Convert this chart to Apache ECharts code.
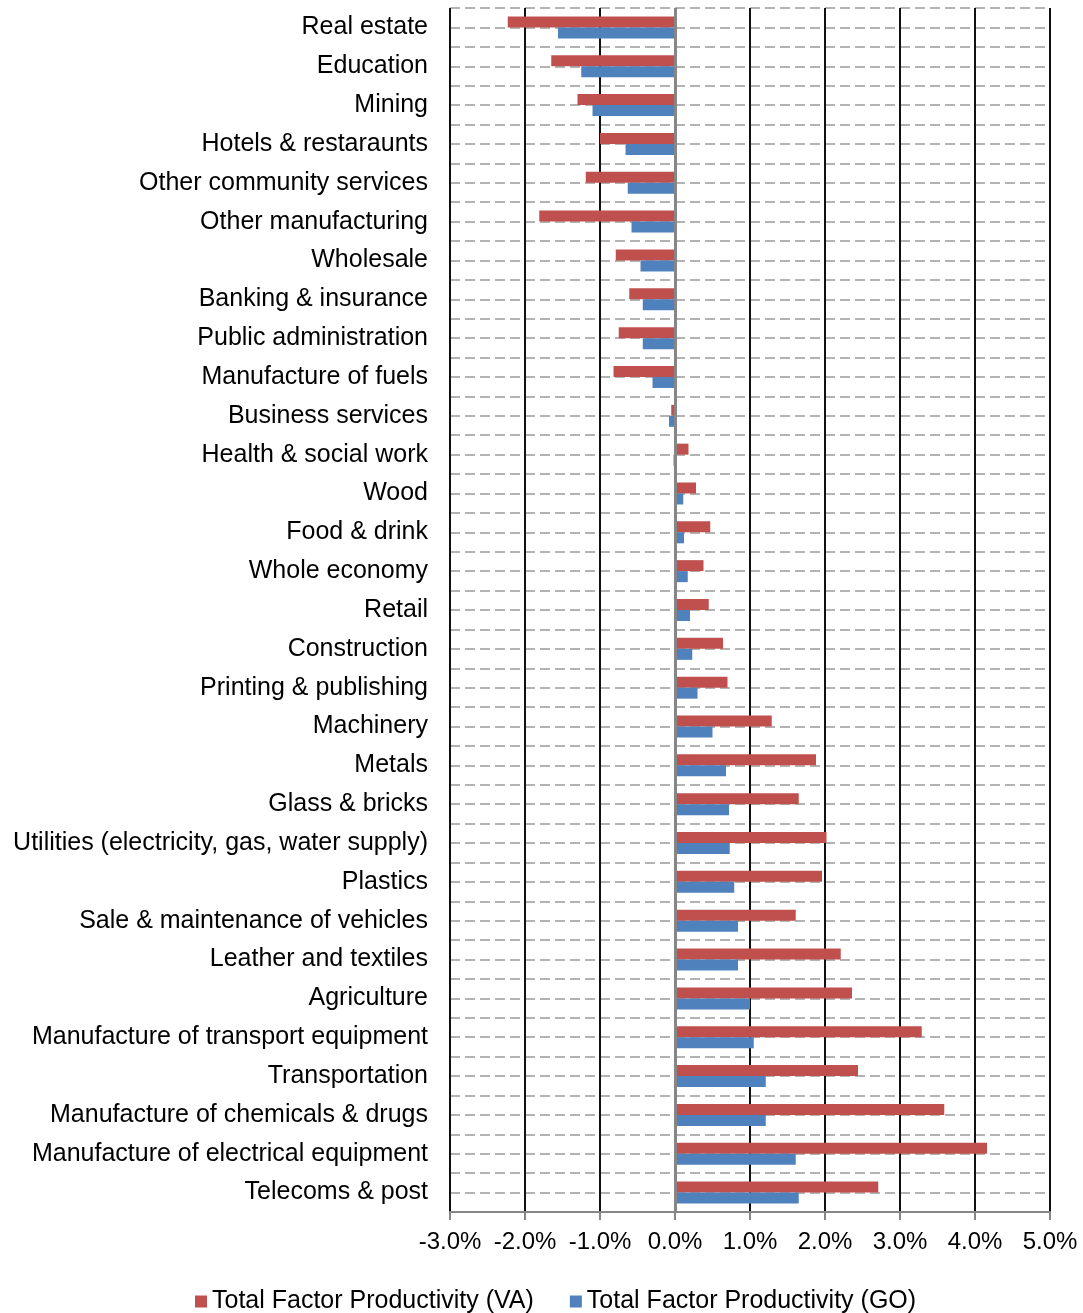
<!doctype html>
<html lang="en">
<head>
<meta charset="UTF-8">
<title>TFP growth by industry</title>
<script src="https://cdn.jsdelivr.net/npm/echarts@6/dist/echarts.min.js"></script>
<style>
  html, body { margin: 0; padding: 0; background: #fff; }
</style>
</head>
<body>
<div id="main" style="width:1083px;height:1313px;"></div>
<script type="text/javascript">
// industries, top to bottom
var industries = [
    'Real estate', 'Education', 'Mining', 'Hotels & restaraunts',
    'Other community services', 'Other manufacturing', 'Wholesale',
    'Banking & insurance', 'Public administration', 'Manufacture of fuels',
    'Business services', 'Health & social work', 'Wood', 'Food & drink',
    'Whole economy', 'Retail', 'Construction', 'Printing & publishing',
    'Machinery', 'Metals', 'Glass & bricks',
    'Utilities (electricity, gas, water supply)', 'Plastics',
    'Sale & maintenance of vehicles', 'Leather and textiles', 'Agriculture',
    'Manufacture of transport equipment', 'Transportation',
    'Manufacture of chemicals & drugs', 'Manufacture of electrical equipment',
    'Telecoms & post'
];

// growth in %
var tfpVA = [
    -2.23, -1.65, -1.30, -1.00, -1.19, -1.81, -0.79, -0.61, -0.75, -0.82,
    -0.05, 0.18, 0.28, 0.47, 0.38, 0.45, 0.64, 0.70, 1.29, 1.88, 1.65,
    2.02, 1.96, 1.61, 2.21, 2.36, 3.29, 2.44, 3.59, 4.16, 2.71
];
var tfpGO = [
    -1.56, -1.25, -1.10, -0.66, -0.63, -0.58, -0.46, -0.43, -0.43, -0.30,
    -0.08, -0.02, 0.11, 0.12, 0.17, 0.20, 0.23, 0.30, 0.50, 0.68, 0.72,
    0.73, 0.79, 0.84, 0.84, 1.00, 1.05, 1.21, 1.21, 1.61, 1.65
];

var seriesNames = ['Total Factor Productivity (VA)', 'Total Factor Productivity (GO)'];
var xMin = -3, xMax = 5, xStep = 1;

var myChart = echarts.init(document.getElementById('main'));
var font = 'Liberation Sans, Arial, sans-serif';

var option = {
    animation: false,
    backgroundColor: '#fff',
    textStyle: { fontFamily: font },
    grid: { left: 450, right: 33, top: 8, bottom: 101, containLabel: false },
    legend: {
        data: seriesNames,
        left: 190,
        top: 1284,
        icon: 'rect',
        itemWidth: 12,
        itemHeight: 12,
        itemGap: 36,
        textStyle: { fontSize: 25, color: '#000', fontFamily: font }
    },
    xAxis: {
        type: 'value',
        min: xMin,
        max: xMax,
        interval: xStep,
        axisLine: { show: true, lineStyle: { color: '#868686', width: 2 } },
        axisTick: { show: true, length: 8, lineStyle: { color: '#868686', width: 2 } },
        axisLabel: {
            fontSize: 24, color: '#000', margin: 18, fontFamily: font,
            formatter: function (v) { return v.toFixed(1) + '%'; }
        },
        splitLine: { show: true, lineStyle: { color: '#111', width: 2 } }
    },
    yAxis: [{
        type: 'category',
        data: industries,
        inverse: true,
        axisLine: { show: false },
        axisTick: { show: false },
        axisLabel: { fontSize: 25, color: '#000', margin: 22, padding: [4, 0, 0, 0], fontFamily: font },
        splitLine: { show: false }
    }, {
        // half-category dashed grid
        type: 'value',
        position: 'right',
        min: 0,
        max: industries.length * 2,
        interval: 1,
        axisLine: { show: false },
        axisTick: { show: false },
        axisLabel: { show: false },
        splitLine: { show: true, lineStyle: { color: '#b3b3b3', width: 2, type: [10, 5] } }
    }],
    series: [{
        name: seriesNames[0],
        type: 'bar',
        yAxisIndex: 0,
        data: tfpVA,
        barWidth: 11,
        barGap: '0%',
        itemStyle: { color: '#C0504D' },
        markLine: {
            silent: true,
            symbol: 'none',
            label: { show: false },
            lineStyle: { color: '#868686', width: 3, type: 'solid' },
            data: [{ xAxis: 0 }]
        }
    }, {
        name: seriesNames[1],
        type: 'bar',
        yAxisIndex: 0,
        data: tfpGO,
        barWidth: 11,
        barGap: '0%',
        itemStyle: { color: '#4F81BD' }
    }]
};

myChart.setOption(option);
</script>
</body>
</html>
